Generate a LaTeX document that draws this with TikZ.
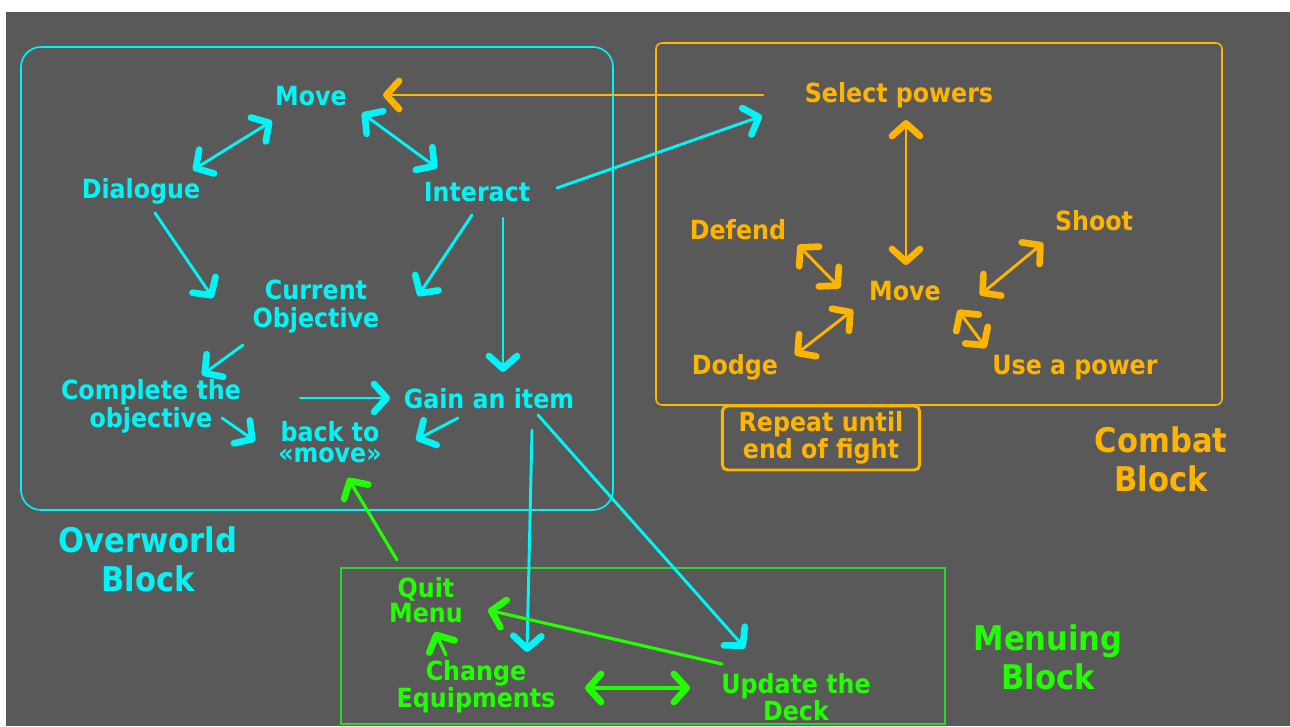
\documentclass[tikz,border=0pt]{standalone}
\usepackage{fontspec}
\setmainfont{DejaVu Sans Condensed}
\usetikzlibrary{arrows.meta}

\definecolor{bggray}{HTML}{595959}
\definecolor{owcyan}{HTML}{00F6F6}
\definecolor{cbamber}{HTML}{FFB400}
\definecolor{mngreen}{HTML}{22FF00}
\definecolor{mnframe}{HTML}{2AD82A}

\begin{document}
\begin{tikzpicture}[x=0.75pt,y=-0.75pt,line cap=round,
        >={Straight Barb[length=9.5pt,width=21pt,line width=5pt,round]},
        lbl/.style={font=\bfseries\fontsize{19.8}{21}\selectfont,align=center,inner sep=1pt},
        tight/.style={font=\bfseries\fontsize{19.8}{15}\selectfont},
        ttl/.style={font=\bfseries\fontsize{25.5}{29}\selectfont,align=center},
        ow/.style={text=owcyan}, cb/.style={text=cbamber}, mn/.style={text=mngreen},
        owline/.style={draw=owcyan,line width=2.2pt},
        cbline/.style={draw=cbamber,line width=2.2pt},
        mnline/.style={draw=mngreen,line width=2.4pt}]

        % background
        \fill[white] (0,0) rectangle (1290,726);
        \fill[bggray] (6,12) rectangle (1290,726);

        % block frames
        \draw[owcyan,line width=1.2pt,rounded corners=15pt] (21,47) rectangle (613,510);
        \draw[cbamber,line width=1.2pt,rounded corners=4.5pt] (656,43) rectangle (1222,405);
        \draw[mnframe,line width=1.2pt] (341,568) rectangle (945,724);

        % overworld
        \node[lbl,ow] (mv) at (311,96) {Move};
        \node[lbl,ow] (dlg) at (141,191) {Dialogue};
        \node[lbl,ow] (int) at (477,192) {Interact};
        \node[lbl,ow] (obj) at (316,307) {Current\\Objective};
        \node[lbl,ow] (cpl) at (151,406) {Complete the\\objective};
        \node[lbl,ow] (gain) at (489,399) {Gain an item};
        \node[lbl,ow,font=\bfseries\fontsize{19.8}{16}\selectfont] (back) at (330,442) {back to\\«move»};
        \node[ttl,ow] (owttl) at (148,559) {Overworld\\Block};

        % combat
        \node[lbl,cb] (sel) at (899,95) {Select powers};
        \node[lbl,cb] (dfd) at (738,230) {Defend};
        \node[lbl,cb] (sht) at (1094,221) {Shoot};
        \node[lbl,cb] (cmv) at (905,291) {Move};
        \node[lbl,cb] (ddg) at (735,367) {Dodge};
        \node[lbl,cb] (use) at (1075,368) {Use a power};
        \node[lbl,tight,cb,draw=cbamber,line width=2.2pt,rounded corners=4pt,
              minimum width=148pt,minimum height=48pt] (rpt) at (821,438) {Repeat until\\end of fight};
        \node[ttl,cb] (cbttl) at (1161,459) {Combat\\Block};

        % menuing
        \node[lbl,tight,mn] (quit) at (426,600) {Quit\\Menu};
        \node[lbl,tight,mn] (chg) at (476,687) {Change\\Equipments};
        \node[lbl,tight,mn] (upd) at (796,697) {Update the\\Deck};
        \node[ttl,mn] (mnttl) at (1048,657) {Menuing\\Block};

        % overworld links
        \draw[owline,<->] ([shift={(52,-21)}]dlg.center) -- ([shift={(-39,25)}]mv.center);
        \draw[owline,<->] ([shift={(51,17)}]mv.center) -- ([shift={(-40,-24)}]int.center);
        \draw[owline,->] ([shift={(14,22)}]dlg.center) -- ([shift={(-103,-9)}]obj.center);
        \draw[owline,->] ([shift={(-5,23)}]int.center) -- ([shift={(102,-11)}]obj.center);
        \draw[owline,->] ([shift={(26,26)}]int.center) -- ([shift={(14,-27)}]gain.center);
        \draw[owline,->] ([shift={(80,-4)}]int.center) -- ([shift={(-137,21)}]sel.center);
        \draw[owline,->] ([shift={(-73,38)}]obj.center) -- ([shift={(51,-31)}]cpl.center);
        \draw[owline,->] ([shift={(71,12)}]cpl.center) -- ([shift={(-75,-1)}]back.center);
        \draw[owline,->] ([shift={(149,-8)}]cpl.center) -- ([shift={(-99,-1)}]gain.center);
        \draw[owline,->] ([shift={(-31,19)}]gain.center) -- ([shift={(86,-2)}]back.center);
        \draw[owline,->] ([shift={(43,31)}]gain.center) -- ([shift={(51,-35)}]chg.center);
        \draw[owline,->] ([shift={(49,16)}]gain.center) -- ([shift={(-51,-49)}]upd.center);

        % combat links
        \draw[cbline,->] ([shift={(-136,0)}]sel.center) -- ([shift={(72,-1)}]mv.center);
        \draw[cbline,<->] ([shift={(7,25)}]sel.center) -- ([shift={(1,-26)}]cmv.center);
        \draw[cbline,<->] ([shift={(60,15)}]dfd.center) -- ([shift={(-65,-3)}]cmv.center);
        \draw[cbline,<->] ([shift={(60,-12)}]ddg.center) -- ([shift={(-52,19)}]cmv.center);
        \draw[cbline,<->] ([shift={(75,4)}]cmv.center) -- ([shift={(-51,22)}]sht.center);
        \draw[cbline,<->] ([shift={(53,19)}]cmv.center) -- ([shift={(-89,-20)}]use.center);

        % menuing links
        \draw[mnline,->] ([shift={(-29,-40)}]quit.center) -- ([shift={(18,36)}]back.center);
        \draw[mnline,->] ([shift={(-74,-33)}]upd.center) -- ([shift={(62,10)}]quit.center);
        \draw[mnline,->] ([shift={(-30,-32)}]chg.center) -- ([shift={(9,32)}]quit.center);
        \draw[mnline,<->] ([shift={(109,1)}]chg.center) -- ([shift={(-106,-9)}]upd.center);
\end{tikzpicture}
\end{document}
